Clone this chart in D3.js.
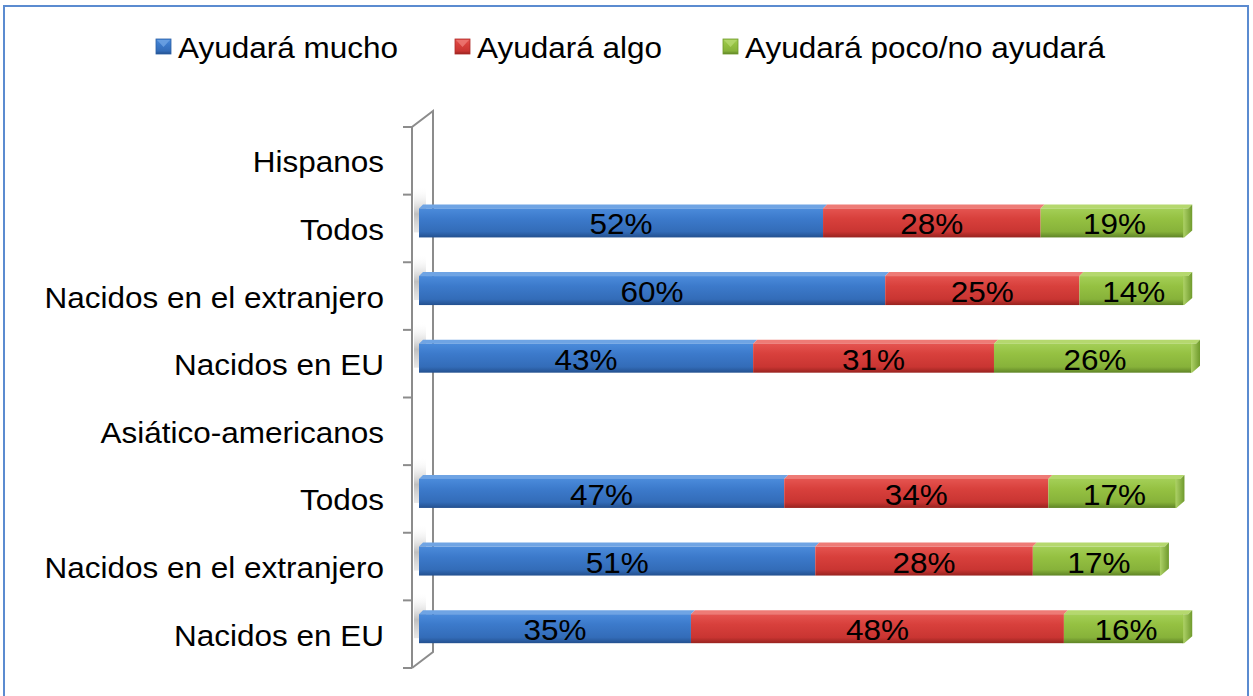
<!DOCTYPE html>
<html>
<head>
<meta charset="utf-8">
<script src="https://cdn.jsdelivr.net/npm/d3@7"></script>
<style>
  body { margin: 0; background: #fff; }
  text { font-family: "Liberation Sans", Arial, sans-serif; fill: #000; }
</style>
</head>
<body>
<div id="mainDiv"></div>
<script>
'use strict';

var categories = ["Hispanos", "Todos", "Nacidos en el extranjero", "Nacidos en EU",
                  "Asiático-americanos", "Todos", "Nacidos en el extranjero", "Nacidos en EU"];
var isHeading = [true, false, false, false, true, false, false, false];
var mucho = [0, 52, 60, 43, 0, 47, 51, 35];
var algo  = [0, 28, 25, 31, 0, 34, 28, 48];
var poco  = [0, 19, 14, 26, 0, 17, 17, 16];
var seriesNames = ["Ayudará mucho", "Ayudará algo", "Ayudará poco/no ayudará"];
var seriesKeys = ["mucho", "algo", "poco"];

var myApp = {};
myApp.w = 1253;
myApp.h = 696;
myApp.fs = 30;
myApp.sx = 1.05;

myApp.colors = {
  mucho: {top: "#6fa4e4", s: ["#4b8bdb", "#3c7acb", "#336cb8", "#23508f"], side: "#2c5fa3"},
  algo:  {top: "#ee7b76", s: ["#e55450", "#d8403c", "#c93532", "#98231f"], side: "#ad2c29"},
  poco:  {top: "#b5d86e", s: ["#a4cf57", "#95c142", "#87b23a", "#5f8426"], side: "#6f9a2c"}
};

myApp.rows = categories.map(function(c, i) {
  return {i: i, name: c, mucho: mucho[i], algo: algo[i], poco: poco[i]};
});

myApp.txt = function(g, x, y, str, anchor) {
  // the original text is a bit stretched sideways
  return g.append("g")
      .attr("transform", "translate(" + x + "," + y + ") scale(" + myApp.sx + ",1)")
    .append("text")
      .attr("text-anchor", anchor)
      .attr("dy", "0.35em")
      .style("font-size", myApp.fs + "px")
      .text(str);
};

myApp.run = function() {
  var svg = d3.select("#mainDiv").append("svg")
      .attr("width", myApp.w)
      .attr("height", myApp.h);

  var defs = svg.append("defs");
  seriesKeys.forEach(function(k) {
    var c = myApp.colors[k];
    var gr = defs.append("linearGradient").attr("id", "g-" + k)
        .attr("x1", 0).attr("y1", 0).attr("x2", 0).attr("y2", 1);
    [0, 0.35, 0.8, 1].forEach(function(o, j) {
      gr.append("stop").attr("offset", o).attr("stop-color", c.s[j]);
    });
    var sg = defs.append("linearGradient").attr("id", "s-" + k)
        .attr("x1", 0).attr("y1", 0).attr("x2", 1).attr("y2", 0);
    sg.append("stop").attr("offset", 0).attr("stop-color", c.top);
    sg.append("stop").attr("offset", 1).attr("stop-color", c.side);
  });
  var sh = defs.append("linearGradient").attr("id", "wallShade")
      .attr("x1", 0).attr("y1", 0).attr("x2", 0).attr("y2", 1);
  sh.append("stop").attr("offset", 0).attr("stop-color", "#ffffff").attr("stop-opacity", 0);
  sh.append("stop").attr("offset", 0.6).attr("stop-color", "#b0b0b0").attr("stop-opacity", 0.8);
  sh.append("stop").attr("offset", 1).attr("stop-color", "#d8d8d8").attr("stop-opacity", 0.6);

  // frame
  svg.append("rect")
      .attr("x", 4).attr("y", 6)
      .attr("width", 1244).attr("height", 700)
      .attr("fill", "#fff")
      .attr("stroke", "#5b8bd0")
      .attr("stroke-width", 2);

  var y = d3.scaleBand().domain(d3.range(categories.length)).range([127, 668]);
  var x = d3.scaleLinear().domain([0, 100]).range([419, 1196]);
  var depth = {dx: 21, dy: -16};
  var wallX = 412;

  // soft shadow on the wall behind bars
  var wall = svg.append("g");
  myApp.rows.filter(function(d) { return !isHeading[d.i]; }).forEach(function(d) {
    var yt = y(d.i) + y.bandwidth() / 2 - 20;
    wall.append("path")
        .attr("d", "M" + (wallX + 2) + "," + (yt - 22) + "h12v46h-12Z")
        .attr("fill", "url(#wallShade)");
  });

  // wall outline
  var r0 = y.range()[0], r1 = y.range()[1];
  wall.append("path")
      .attr("d", "M" + wallX + "," + r1 + "V" + r0 + "l" + depth.dx + "," + depth.dy +
                 "V" + (r1 + depth.dy) + "L" + wallX + "," + r1)
      .attr("fill", "none")
      .attr("stroke", "#8c8c8c")
      .attr("stroke-width", 2);

  // ticks
  var ticks = d3.range(categories.length + 1).map(function(i) { return r0 + i * y.step(); });
  wall.selectAll("line.tick").data(ticks).enter().append("line")
      .attr("x1", wallX - 9).attr("x2", wallX)
      .attr("y1", function(d) { return d; }).attr("y2", function(d) { return d; })
      .attr("stroke", "#8c8c8c")
      .attr("stroke-width", 2);

  // category labels
  var lab = svg.append("g");
  myApp.rows.forEach(function(d) {
    myApp.txt(lab, 384, y(d.i) + y.bandwidth() / 2 + 1, d.name, "end");
  });

  // bars
  var stack = d3.stack().keys(seriesKeys)(myApp.rows.filter(function(d) { return !isHeading[d.i]; }));
  var bars = svg.append("g");
  var th = 29, dd = 4;
  stack.forEach(function(layer, li) {
    var k = layer.key, c = myApp.colors[k];
    layer.forEach(function(s) {
      var d = s.data;
      var yt = y(d.i) + y.bandwidth() / 2 - 20;
      var x0 = x(s[0]), x1 = x(s[1]);
      var last = li === stack.length - 1;
      bars.append("path")
          .attr("d", "M" + x0 + "," + yt + "l" + dd + "," + (-dd) + "H" + (x1 + dd) + "L" + x1 + "," + yt + "Z")
          .attr("fill", c.top);
      if (last) {
        bars.append("path")
            .attr("d", "M" + (x1 - 6) + "," + yt + "H" + x1 + "l" + dd + "," + (-dd) + "v" + (th - 3) +
                       "l" + (-dd - 4) + "," + (dd + 3) + "H" + (x1 - 6) + "Z")
            .attr("fill", "url(#s-" + k + ")");
        bars.append("rect")
            .attr("x", x0).attr("y", yt)
            .attr("width", x1 - x0 - 5).attr("height", th)
            .attr("fill", "url(#g-" + k + ")");
      } else {
        bars.append("rect")
            .attr("x", x0).attr("y", yt)
            .attr("width", x1 - x0).attr("height", th)
            .attr("fill", "url(#g-" + k + ")");
      }
      myApp.txt(bars, (x0 + x1) / 2, yt + th / 2 + 1, d[k] + "%", "middle");
    });
  });

  // legend
  var legX = [156, 455, 723];
  var leg = svg.append("g");
  seriesKeys.forEach(function(k, i) {
    var c = myApp.colors[k];
    leg.append("rect")
        .attr("x", legX[i]).attr("y", 39)
        .attr("width", 15).attr("height", 15)
        .attr("fill", "url(#g-" + k + ")")
        .attr("stroke", c.side).attr("stroke-width", 0.8);
    leg.append("path")
        .attr("d", "M" + (legX[i] + 1) + ",40L" + (legX[i] + 7.5) + ",47L" + (legX[i] + 14) + ",40Z")
        .attr("fill", c.top).attr("opacity", 0.8);
    myApp.txt(leg, legX[i] + 22, 47, seriesNames[i], "start");
  });
};

window.onload = myApp.run;
</script>
</body>
</html>
